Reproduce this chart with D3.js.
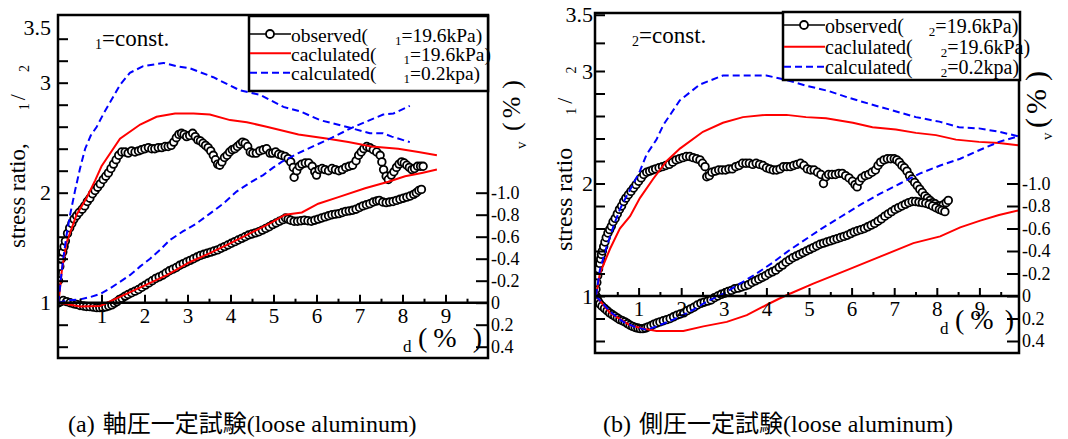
<!DOCTYPE html>
<html><head><meta charset="utf-8">
<script src="https://cdn.jsdelivr.net/npm/d3@7"></script>
<style>
html,body{margin:0;padding:0;background:#fff;}
svg{display:block;}
svg text{font-family:"Liberation Serif","Times New Roman",serif;fill:#000;}
</style></head><body>
<svg id="chart" width="1068" height="439" font-family="Liberation Serif"></svg>
<script>
// ---------------- DATA (εd %, value) ----------------
// Panel (a): σ1 = const.
const obsStressA = [[0.00,1.00],[0.00,1.20],[0.03,1.33],[0.07,1.40],[0.10,1.46],[0.13,1.51],[0.16,1.56],[0.21,1.63],[0.26,1.68],[0.31,1.72],[0.36,1.76],[0.42,1.79],[0.48,1.82],[0.55,1.85],[0.61,1.88],[0.67,1.92],[0.73,1.95],[0.79,1.99],[0.85,2.02],[0.91,2.05],[0.97,2.08],[1.04,2.12],[1.10,2.15],[1.16,2.18],[1.22,2.22],[1.28,2.26],[1.34,2.30],[1.40,2.34],[1.47,2.37],[1.55,2.37],[1.62,2.36],[1.70,2.38],[1.78,2.37],[1.86,2.38],[1.93,2.39],[2.01,2.40],[2.09,2.41],[2.17,2.40],[2.24,2.40],[2.32,2.41],[2.40,2.41],[2.48,2.42],[2.55,2.42],[2.62,2.43],[2.68,2.46],[2.74,2.50],[2.80,2.53],[2.86,2.54],[2.92,2.53],[2.98,2.51],[3.05,2.52],[3.12,2.54],[3.18,2.51],[3.24,2.48],[3.30,2.47],[3.36,2.45],[3.42,2.43],[3.48,2.41],[3.54,2.38],[3.60,2.34],[3.65,2.30],[3.70,2.26],[3.75,2.25],[3.80,2.28],[3.86,2.32],[3.92,2.34],[3.98,2.37],[4.04,2.39],[4.10,2.40],[4.16,2.42],[4.22,2.44],[4.28,2.46],[4.34,2.45],[4.40,2.42],[4.46,2.37],[4.52,2.36],[4.60,2.36],[4.68,2.38],[4.76,2.39],[4.84,2.40],[4.92,2.36],[4.98,2.36],[5.05,2.37],[5.12,2.35],[5.19,2.34],[5.27,2.33],[5.34,2.31],[5.40,2.28],[5.46,2.23],[5.48,2.14],[5.54,2.20],[5.60,2.24],[5.66,2.26],[5.74,2.27],[5.82,2.27],[5.90,2.24],[5.96,2.19],[6.00,2.16],[6.06,2.21],[6.13,2.22],[6.20,2.21],[6.28,2.20],[6.36,2.22],[6.44,2.21],[6.52,2.20],[6.60,2.21],[6.68,2.23],[6.76,2.24],[6.84,2.25],[6.92,2.29],[6.98,2.34],[7.04,2.37],[7.10,2.40],[7.17,2.42],[7.24,2.41],[7.32,2.39],[7.40,2.37],[7.48,2.34],[7.52,2.28],[7.56,2.21],[7.62,2.15],[7.67,2.12],[7.74,2.16],[7.80,2.19],[7.86,2.23],[7.92,2.26],[7.98,2.28],[8.04,2.27],[8.10,2.25],[8.16,2.23],[8.22,2.21],[8.28,2.22],[8.35,2.24],[8.42,2.24],[8.48,2.24]];
const obsVolA = [[0.00,0.00],[0.05,-0.01],[0.11,-0.02],[0.19,-0.01],[0.27,0.00],[0.35,0.01],[0.42,0.015],[0.50,0.025],[0.58,0.03],[0.65,0.035],[0.73,0.036],[0.81,0.04],[0.89,0.045],[0.96,0.045],[1.03,0.045],[1.10,0.038],[1.17,0.03],[1.24,0.02],[1.30,0.005],[1.36,-0.01],[1.42,-0.03],[1.48,-0.04],[1.55,-0.06],[1.62,-0.075],[1.70,-0.09],[1.78,-0.105],[1.86,-0.12],[1.94,-0.14],[2.02,-0.16],[2.10,-0.18],[2.18,-0.20],[2.26,-0.22],[2.34,-0.235],[2.42,-0.25],[2.50,-0.27],[2.58,-0.29],[2.66,-0.305],[2.74,-0.32],[2.82,-0.34],[2.90,-0.355],[2.98,-0.37],[3.06,-0.385],[3.14,-0.40],[3.22,-0.415],[3.30,-0.43],[3.38,-0.44],[3.46,-0.45],[3.54,-0.46],[3.62,-0.47],[3.70,-0.48],[3.78,-0.495],[3.86,-0.51],[3.94,-0.525],[4.02,-0.54],[4.10,-0.555],[4.18,-0.57],[4.26,-0.585],[4.34,-0.60],[4.42,-0.615],[4.50,-0.625],[4.58,-0.635],[4.66,-0.645],[4.74,-0.66],[4.82,-0.675],[4.90,-0.69],[4.98,-0.71],[5.06,-0.725],[5.14,-0.74],[5.22,-0.755],[5.28,-0.77],[5.34,-0.76],[5.40,-0.75],[5.48,-0.74],[5.56,-0.74],[5.64,-0.745],[5.72,-0.75],[5.80,-0.745],[5.88,-0.74],[5.96,-0.75],[6.04,-0.76],[6.12,-0.77],[6.20,-0.78],[6.28,-0.79],[6.36,-0.80],[6.44,-0.805],[6.52,-0.81],[6.60,-0.82],[6.68,-0.83],[6.76,-0.835],[6.84,-0.84],[6.92,-0.85],[7.00,-0.865],[7.08,-0.88],[7.16,-0.89],[7.24,-0.90],[7.32,-0.915],[7.40,-0.925],[7.46,-0.93],[7.54,-0.915],[7.62,-0.91],[7.70,-0.915],[7.78,-0.92],[7.86,-0.93],[7.94,-0.94],[8.02,-0.95],[8.10,-0.96],[8.18,-0.97],[8.26,-0.985],[8.32,-1.00],[8.38,-1.02],[8.44,-1.03]];
const calcStressA = [[0,1.0],[0.08,1.30],[0.19,1.55],[0.42,1.80],[0.65,1.95],[0.85,2.11],[1.0,2.24],[1.43,2.49],[1.90,2.62],[2.28,2.69],[2.71,2.72],[3.14,2.72],[3.52,2.71],[3.99,2.66],[4.38,2.64],[4.84,2.60],[5.58,2.53],[6.27,2.49],[6.74,2.46],[7.28,2.42],[7.90,2.40],[8.37,2.37],[8.80,2.34]];
const calcVolA = [[0,0],[0.15,0.01],[0.50,0.035],[0.97,0.03],[1.35,-0.04],[1.97,-0.15],[2.52,-0.25],[3.06,-0.37],[3.52,-0.45],[3.99,-0.54],[4.45,-0.63],[4.96,-0.73],[5.27,-0.80],[5.66,-0.82],[6.04,-0.90],[6.51,-0.96],[7.13,-1.04],[7.67,-1.10],[8.06,-1.15],[8.45,-1.18],[8.80,-1.21]];
const lowStressA = [[0,1.0],[0.05,1.20],[0.11,1.40],[0.19,1.62],[0.27,1.80],[0.38,2.01],[0.50,2.22],[0.62,2.40],[0.75,2.52],[0.89,2.60],[1.05,2.72],[1.27,2.87],[1.43,2.98],[1.66,3.09],[1.97,3.15],[2.44,3.18],[2.75,3.15],[3.06,3.13],[3.60,3.05],[4.22,2.93],[4.69,2.89],[5.23,2.78],[5.62,2.74],[6.08,2.66],[6.78,2.59],[7.24,2.54],[7.55,2.54],[7.75,2.51],[8.17,2.46]];
const lowVolA = [[0,0],[0.20,-0.02],[0.50,-0.03],[0.73,-0.05],[0.97,-0.08],[1.20,-0.13],[1.43,-0.19],[1.66,-0.25],[1.90,-0.33],[2.13,-0.40],[2.36,-0.48],[2.59,-0.57],[2.90,-0.65],[3.21,-0.72],[3.52,-0.81],[3.83,-0.90],[4.14,-1.01],[4.45,-1.09],[4.76,-1.16],[5.00,-1.23],[5.19,-1.28],[5.58,-1.36],[5.97,-1.43],[6.36,-1.50],[6.82,-1.59],[7.24,-1.66],[7.55,-1.71],[7.79,-1.72],[8.17,-1.79]];

// Panel (b): σ2 = const.
const obsStressB = [[0.00,1.00],[0.00,1.06],[0.02,1.12],[0.04,1.18],[0.06,1.24],[0.09,1.29],[0.11,1.33],[0.13,1.37],[0.15,1.40],[0.18,1.44],[0.21,1.48],[0.24,1.52],[0.28,1.56],[0.32,1.59],[0.36,1.62],[0.40,1.66],[0.45,1.69],[0.50,1.73],[0.55,1.77],[0.60,1.80],[0.65,1.84],[0.70,1.87],[0.76,1.90],[0.82,1.93],[0.88,1.96],[0.94,1.99],[1.00,2.02],[1.06,2.05],[1.12,2.08],[1.19,2.10],[1.26,2.11],[1.33,2.12],[1.40,2.13],[1.48,2.14],[1.56,2.15],[1.64,2.16],[1.72,2.17],[1.80,2.19],[1.88,2.21],[1.96,2.22],[2.04,2.23],[2.12,2.24],[2.20,2.24],[2.28,2.23],[2.36,2.22],[2.44,2.21],[2.50,2.18],[2.56,2.15],[2.60,2.06],[2.66,2.07],[2.72,2.10],[2.80,2.11],[2.88,2.12],[2.96,2.12],[3.04,2.12],[3.12,2.13],[3.20,2.13],[3.28,2.15],[3.36,2.16],[3.44,2.18],[3.52,2.18],[3.60,2.18],[3.68,2.17],[3.76,2.18],[3.84,2.17],[3.92,2.16],[4.00,2.14],[4.08,2.13],[4.16,2.12],[4.24,2.12],[4.32,2.13],[4.40,2.15],[4.48,2.15],[4.56,2.15],[4.64,2.16],[4.72,2.17],[4.80,2.18],[4.88,2.16],[4.96,2.13],[5.04,2.12],[5.12,2.12],[5.20,2.10],[5.28,2.08],[5.34,2.00],[5.40,2.06],[5.46,2.08],[5.54,2.08],[5.62,2.08],[5.70,2.09],[5.78,2.09],[5.86,2.07],[5.94,2.05],[6.02,2.02],[6.08,1.99],[6.13,1.97],[6.18,2.02],[6.24,2.05],[6.32,2.07],[6.40,2.08],[6.48,2.10],[6.56,2.12],[6.62,2.16],[6.68,2.19],[6.76,2.21],[6.84,2.22],[6.92,2.22],[7.00,2.22],[7.06,2.21],[7.12,2.19],[7.18,2.16],[7.24,2.14],[7.30,2.11],[7.36,2.07],[7.42,2.04],[7.48,2.01],[7.54,1.98],[7.60,1.95],[7.66,1.92],[7.72,1.89],[7.78,1.87],[7.84,1.85],[7.90,1.83],[7.96,1.82],[8.02,1.80],[8.08,1.80],[8.15,1.81],[8.22,1.83],[8.27,1.85]];
const obsVolB = [[0.00,0.00],[0.02,0.02],[0.05,0.045],[0.09,0.07],[0.14,0.09],[0.20,0.11],[0.26,0.13],[0.32,0.15],[0.38,0.165],[0.44,0.18],[0.50,0.195],[0.56,0.21],[0.62,0.22],[0.68,0.23],[0.74,0.245],[0.80,0.26],[0.86,0.27],[0.92,0.28],[0.98,0.285],[1.04,0.29],[1.10,0.29],[1.16,0.285],[1.22,0.275],[1.29,0.265],[1.36,0.25],[1.43,0.24],[1.50,0.23],[1.58,0.22],[1.66,0.21],[1.74,0.20],[1.82,0.185],[1.90,0.17],[1.98,0.16],[2.06,0.15],[2.14,0.13],[2.22,0.115],[2.30,0.10],[2.38,0.08],[2.46,0.065],[2.54,0.055],[2.62,0.045],[2.70,0.035],[2.78,0.015],[2.86,0.00],[2.94,-0.015],[3.02,-0.025],[3.10,-0.04],[3.18,-0.05],[3.26,-0.065],[3.34,-0.07],[3.42,-0.08],[3.50,-0.09],[3.58,-0.10],[3.66,-0.12],[3.74,-0.135],[3.82,-0.15],[3.90,-0.165],[3.98,-0.18],[4.06,-0.20],[4.14,-0.215],[4.22,-0.23],[4.30,-0.255],[4.38,-0.275],[4.46,-0.30],[4.54,-0.32],[4.62,-0.34],[4.70,-0.355],[4.78,-0.37],[4.86,-0.385],[4.94,-0.40],[5.02,-0.415],[5.10,-0.43],[5.18,-0.445],[5.26,-0.46],[5.34,-0.47],[5.42,-0.48],[5.50,-0.49],[5.58,-0.50],[5.66,-0.51],[5.74,-0.52],[5.82,-0.53],[5.90,-0.54],[5.98,-0.555],[6.06,-0.57],[6.14,-0.58],[6.22,-0.59],[6.30,-0.60],[6.38,-0.615],[6.46,-0.63],[6.54,-0.645],[6.62,-0.665],[6.70,-0.685],[6.78,-0.71],[6.86,-0.73],[6.94,-0.75],[7.02,-0.77],[7.10,-0.785],[7.18,-0.80],[7.26,-0.815],[7.34,-0.83],[7.42,-0.84],[7.50,-0.84],[7.58,-0.835],[7.66,-0.83],[7.74,-0.825],[7.82,-0.815],[7.90,-0.80],[7.98,-0.785],[8.06,-0.77],[8.12,-0.76],[8.19,-0.75]];
const calcStressB = [[0,1.0],[0.09,1.20],[0.33,1.42],[0.56,1.60],[0.80,1.71],[1.03,1.87],[1.34,2.04],[1.66,2.20],[1.97,2.31],[2.51,2.46],[2.98,2.54],[3.45,2.59],[4.00,2.61],[4.47,2.61],[4.93,2.59],[5.40,2.58],[6.03,2.54],[6.49,2.50],[7.04,2.48],[7.51,2.45],[7.98,2.43],[8.45,2.39],[8.99,2.37],[9.46,2.36],[9.91,2.34]];
const calcVolB = [[0,0],[0.33,0.15],[0.80,0.26],[1.11,0.29],[1.42,0.31],[2.05,0.31],[2.52,0.27],[3.07,0.23],[3.54,0.17],[4.00,0.08],[4.32,0.02],[4.55,-0.02],[5.10,-0.11],[5.89,-0.23],[6.67,-0.35],[7.45,-0.47],[8.08,-0.53],[8.55,-0.61],[9.02,-0.67],[9.46,-0.72],[9.91,-0.76]];
const lowStressB = [[0,1.0],[0.09,1.23],[0.25,1.44],[0.41,1.62],[0.56,1.77],[0.72,1.89],[0.88,2.00],[1.03,2.11],[1.19,2.26],[1.42,2.39],[1.58,2.52],[1.97,2.74],[2.44,2.88],[2.98,2.96],[3.45,2.96],[4.00,2.96],[4.47,2.92],[4.93,2.87],[5.48,2.82],[5.95,2.76],[6.49,2.70],[6.96,2.65],[7.51,2.59],[8.06,2.55],[8.52,2.50],[8.99,2.49],[9.46,2.46],[9.91,2.42]];
const lowVolB = [[0,0],[0.33,0.14],[0.64,0.23],[0.95,0.28],[1.19,0.30],[1.42,0.27],[1.81,0.21],[2.20,0.14],[2.60,0.05],[2.99,-0.02],[3.38,-0.11],[3.77,-0.20],[4.16,-0.30],[4.55,-0.41],[4.79,-0.47],[5.26,-0.59],[5.73,-0.70],[6.20,-0.81],[6.67,-0.91],[7.14,-1.00],[7.61,-1.09],[8.08,-1.16],[8.55,-1.22],[9.02,-1.30],[9.46,-1.37],[9.91,-1.42]];

// ---------------- TICKS & LABELS ----------------
const xMajorTicks = [1,2,3,4,5,6,7,8,9];
const xMinorTicks = [0.5,1.5,2.5,3.5,4.5,5.5,6.5,7.5,8.5,9.5];
const stressTicksA = [0.6,0.8,1.0,1.2,1.4,1.6,1.8,2.0,2.2,2.4,2.6,2.8,3.0,3.2,3.4];
const stressTicksB = [0.6,0.8,1.0,1.2,1.4,1.6,1.8,2.0,2.2,2.4,2.6,2.8,3.0,3.25,3.5];
const stressLabelValues = [1,2,3,3.5];
const stressLabelText = ["1","2","3","3.5"];
const volTickValues = [0.4,0.2,0,-0.2,-0.4,-0.6,-0.8,-1.0];
const volTickText = ["0.4","0.2","0","-0.2","-0.4","-0.6","-0.8","-1.0"];
const legendMain = ["observed(","caclulated(","calculated("];
const legendRest = ["=19.6kPa)","=19.6kPa)","=0.2kpa)"];
const captionTag = ["(a)","(b)"];
const captionJa = ["軸圧一定試験","側圧一定試験"];
const captionEn = "(loose aluminum)";
const subIndex = ["1","2"];

const SERIF = "Liberation Serif";
const CJK = "Noto Sans CJK JP";

// ---------------- LAYOUT ----------------
const panels = [
  {box:{l:58,r:488,t:15,b:358}, xr:[58.5,488.5], yr:[302.7,82.7], vr:[302.7,192.7],
   obsR:obsStressA, obsV:obsVolA, calR:calcStressA, calV:calcVolA, lowR:lowStressA, lowV:lowVolA,
   sTicks:stressTicksA, lblPad:7, sub:subIndex[0],
   leg:{x:249, y:16, w:239, h:75, rowY:[34,53.3,72.7], gap:[27,27,27], fs:19.5},
   constPos:{x:95, y:46}, ylab:{x:25, y:248, fs:23, text:"stress ratio,", d1:33, d2:3, d3:22},
   vlab:{vx:526, vy:149, px:520, py:131, fs:26}, xlab:{dx:403, dy:352, px:418, py:347, g1:6, g2:16},
   cap:{x:68, y:432}},
  {box:{l:595,r:1019,t:13,b:353}, xr:[596,1022], yr:[296,71], vr:[296,183.5],
   obsR:obsStressB, obsV:obsVolB, calR:calcStressB, calV:calcVolB, lowR:lowStressB, lowV:lowVolB,
   sTicks:stressTicksB, lblPad:2, sub:subIndex[1],
   leg:{x:783, y:12, w:237, h:68, rowY:[25,46.7,66.7], gap:[25,28,28], fs:20},
   constPos:{x:632, y:43}, ylab:{x:572, y:251, fs:24, text:"stress ratio", d1:33, d2:4, d3:24},
   vlab:{vx:1052, vy:140, px:1046, py:128, fs:30}, xlab:{dx:940, dy:334, px:955, py:329, g1:6, g2:11},
   cap:{x:603, y:432}}
];

const svg = d3.select("#chart");
const defs = svg.append("defs");

function txt(sel){ return sel.append("text").attr("font-family",SERIF).attr("fill","#000"); }

panels.forEach((p,pi)=>{
  const b = p.box;
  const x = d3.scaleLinear().domain([0,10]).range(p.xr);
  const yR = d3.scaleLinear().domain([1,3]).range(p.yr);
  const yV = d3.scaleLinear().domain([0,-1]).range(p.vr);
  const g = svg.append("g").attr("font-family",SERIF);

  const clipId = "clip"+pi;
  defs.append("clipPath").attr("id",clipId).append("rect")
    .attr("x",b.l).attr("y",b.t).attr("width",b.r-b.l).attr("height",b.b-b.t);

  const plot = g.append("g").attr("clip-path",`url(#${clipId})`);
  const lineR = d3.line().x(d=>x(d[0])).y(d=>yR(d[1]));
  const lineV = d3.line().x(d=>x(d[0])).y(d=>yV(d[1]));

  // observed: thin black line + open circles
  [[p.obsR,lineR,yR],[p.obsV,lineV,yV]].forEach(([data,ln,ys])=>{
    plot.append("path").datum(data).attr("d",ln)
      .attr("fill","none").attr("stroke","#000").attr("stroke-width",1.2);
    plot.append("g").selectAll("circle").data(data).join("circle")
      .attr("cx",d=>x(d[0])).attr("cy",d=>ys(d[1])).attr("r",3.8)
      .attr("fill","#fff").attr("stroke","#000").attr("stroke-width",1.8);
  });
  // calculated 19.6 kPa (red)
  plot.append("path").datum(p.calR).attr("d",lineR).attr("fill","none").attr("stroke","#ff0000").attr("stroke-width",2);
  plot.append("path").datum(p.calV).attr("d",lineV).attr("fill","none").attr("stroke","#ff0000").attr("stroke-width",2);
  // calculated 0.2 kPa (blue dashed)
  plot.append("path").datum(p.lowR).attr("d",lineR).attr("fill","none").attr("stroke","#0000ff").attr("stroke-width",2).attr("stroke-dasharray","7,4");
  plot.append("path").datum(p.lowV).attr("d",lineV).attr("fill","none").attr("stroke","#0000ff").attr("stroke-width",2).attr("stroke-dasharray","7,4");

  // left ticks
  const lt = g.append("g").attr("transform",`translate(${b.l},0)`)
    .call(d3.axisLeft(yR).tickValues(p.sTicks).tickSize(-10).tickFormat(""));
  lt.select(".domain").remove();
  lt.selectAll("line").attr("stroke","#000").attr("stroke-width",2);
  // left labels
  const ll = g.append("g").attr("transform",`translate(${b.l},0)`)
    .call(d3.axisLeft(yR).tickValues(stressLabelValues).tickSize(0).tickPadding(p.lblPad)
      .tickFormat((d,i)=>stressLabelText[i]));
  ll.attr("font-family",SERIF);
  ll.select(".domain").remove();
  ll.selectAll("text").attr("font-family",SERIF).attr("font-size",22).attr("fill","#000");

  // right axis
  const ra = g.append("g").attr("transform",`translate(${b.r},0)`)
    .call(d3.axisRight(yV).tickValues(volTickValues).tickSize(-12).tickPadding(3)
      .tickFormat((d,i)=>volTickText[i]));
  ra.attr("font-family",SERIF);
  ra.select(".domain").remove();
  ra.selectAll("line").attr("stroke","#000").attr("stroke-width",2);
  ra.selectAll("text").attr("font-family",SERIF).attr("font-size",18).attr("fill","#000");

  // x axis at stress ratio = 1
  const y1 = yR(1);
  const xa = g.append("g").attr("transform",`translate(0,${y1})`)
    .call(d3.axisBottom(x).tickValues(xMajorTicks).tickSize(-8).tickPadding(5));
  xa.attr("font-family",SERIF);
  xa.select(".domain").remove();
  xa.selectAll("line").attr("stroke","#000").attr("stroke-width",2);
  xa.selectAll("text").attr("font-family",SERIF).attr("font-size",21).attr("fill","#000");
  const xm = g.append("g").attr("transform",`translate(0,${y1})`)
    .call(d3.axisBottom(x).tickValues(xMinorTicks).tickSize(-4).tickFormat(""));
  xm.select(".domain").remove();
  xm.selectAll("line").attr("stroke","#000").attr("stroke-width",2);
  g.append("line").attr("x1",b.l).attr("x2",b.r).attr("y1",y1).attr("y2",y1)
    .attr("stroke","#000").attr("stroke-width",2.5);

  // frame
  g.append("rect").attr("x",b.l).attr("y",b.t).attr("width",b.r-b.l).attr("height",b.b-b.t)
    .attr("fill","none").attr("stroke","#000").attr("stroke-width",2.5);

  // legend
  const L = p.leg;
  const lg = g.append("g");
  lg.append("rect").attr("x",L.x).attr("y",L.y).attr("width",L.w).attr("height",L.h)
    .attr("fill","#fff").attr("stroke","#000").attr("stroke-width",2.5);
  const styles = [{c:"#000",w:1.5,d:null},{c:"#ff0000",w:2,d:null},{c:"#0000ff",w:2,d:"7,4"}];
  L.rowY.forEach((ry,i)=>{
    lg.append("line").attr("x1",L.x+1).attr("x2",L.x+42).attr("y1",ry).attr("y2",ry)
      .attr("stroke",styles[i].c).attr("stroke-width",styles[i].w).attr("stroke-dasharray",styles[i].d);
    if(i===0) lg.append("circle").attr("cx",L.x+21).attr("cy",ry).attr("r",4)
      .attr("fill","#fff").attr("stroke","#000").attr("stroke-width",1.8);
    const t = txt(lg).attr("x",L.x+42).attr("y",ry+7.5).attr("font-size",L.fs);
    t.append("tspan").text(legendMain[i]);
    t.append("tspan").attr("dx",L.gap[i]).attr("dy",3).attr("font-size",13).text(p.sub);
    t.append("tspan").attr("dy",-3).text(legendRest[i]);
  });

  // σ=const.
  const ct = txt(g).attr("x",p.constPos.x).attr("y",p.constPos.y).attr("font-size",23);
  ct.append("tspan").attr("dy",3).attr("font-size",14).text(p.sub);
  ct.append("tspan").attr("dy",-3).text("=const.");

  // left y label (rotated)
  const Y = p.ylab;
  const yl = txt(g).attr("transform",`translate(${Y.x},${Y.y}) rotate(-90)`).attr("font-size",Y.fs);
  yl.append("tspan").text(Y.text);
  yl.append("tspan").attr("dx",Y.d1).attr("dy",4).attr("font-size",14).text("1");
  yl.append("tspan").attr("dx",Y.d2).attr("dy",-4).attr("font-size",22).text("/");
  yl.append("tspan").attr("dx",Y.d3).attr("dy",4).attr("font-size",14).text("2");

  // right y label
  const V = p.vlab;
  txt(g).attr("transform",`translate(${V.vx},${V.vy}) rotate(-90)`).attr("font-size",15).text("v");
  const vt = txt(g).attr("transform",`translate(${V.px},${V.py}) rotate(-90)`).attr("font-size",V.fs);
  vt.append("tspan").text("(");
  vt.append("tspan").attr("dx",4).text("%");
  vt.append("tspan").attr("dx",8).text(")");

  // x label
  const X = p.xlab;
  txt(g).attr("x",X.dx).attr("y",X.dy).attr("font-size",17).text("d");
  const xt = txt(g).attr("x",X.px).attr("y",X.py).attr("font-size",28);
  xt.append("tspan").text("(");
  xt.append("tspan").attr("dx",X.g1).text("%");
  xt.append("tspan").attr("dx",X.g2).text(")");

  // caption
  const cp = txt(g).attr("x",p.cap.x).attr("y",p.cap.y).attr("font-size",24);
  cp.append("tspan").text(captionTag[pi]);
  cp.append("tspan").attr("dx",8).attr("font-family",CJK).attr("font-size",24).text(captionJa[pi]);
  cp.append("tspan").attr("font-family",SERIF).text(captionEn);
});
</script>
</body></html>
